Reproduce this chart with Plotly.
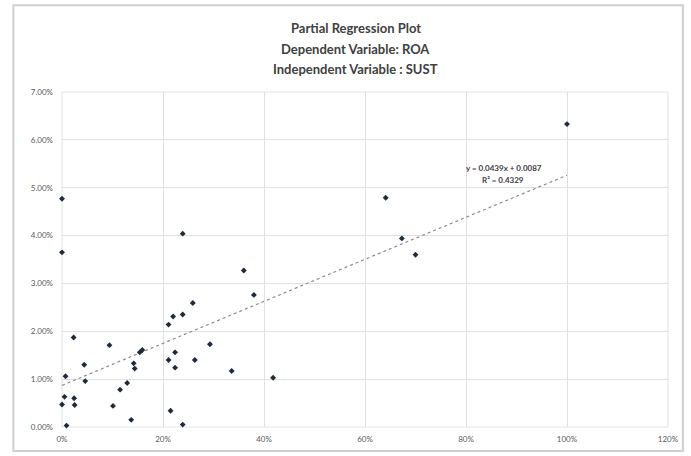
import plotly.graph_objects as go

# ---- data (fractions) ----
sust = [0.000, 0.000, 0.023, 0.094, 0.044, 0.007, 0.046, -0.002, 0.005, 0.024,
        0.000, 0.025, 0.009, 0.101, 0.115, 0.129, 0.142, 0.144, 0.137, 0.154,
        0.159, 0.211, 0.220, 0.239, 0.259, 0.239, 0.360, 0.380, 0.293, 0.224,
        0.211, 0.263, 0.224, 0.336, 0.418, 0.215, 0.239, 0.641, 0.673, 0.700,
        1.000]
roa = [0.0477, 0.0365, 0.0187, 0.0171, 0.0130, 0.0106, 0.0096, 0.0072, 0.0063, 0.0060,
       0.0047, 0.0046, 0.0003, 0.0044, 0.0078, 0.0092, 0.0133, 0.0122, 0.0015, 0.0156,
       0.0161, 0.0214, 0.0231, 0.0235, 0.0259, 0.0404, 0.0327, 0.0276, 0.0173, 0.0156,
       0.0140, 0.0140, 0.0124, 0.0117, 0.0103, 0.0034, 0.0005, 0.0479, 0.0394, 0.0360,
       0.0633]

trend_slope = 0.0439
trend_intercept = 0.0087
trend_x = [0.0, 1.0]
r_squared = 0.4329

x_tickvals = [0, 0.2, 0.4, 0.6, 0.8, 1.0, 1.2]
x_ticktext = ["0%", "20%", "40%", "60%", "80%", "100%", "120%"]
y_tickvals = [0, 0.01, 0.02, 0.03, 0.04, 0.05, 0.06, 0.07]
y_ticktext = ["0.00%", "1.00%", "2.00%", "3.00%", "4.00%", "5.00%", "6.00%", "7.00%"]

title_lines = ["Partial Regression Plot", "Dependent Variable: ROA", "Independent Variable : SUST"]

W, H = 691, 456
ML, MR, MT, MB = 62, 18, 92, 28
PW, PH = W - ML - MR, H - MT - MB

def px_x(p):
    return (p - ML) / PW

def px_y(p):
    return (H - MB - p) / PH

fig = go.Figure()

fig.add_trace(go.Scatter(
    x=trend_x, y=[trend_slope * v + trend_intercept for v in trend_x],
    mode="lines", line=dict(color="#8c8c8c", width=1.2, dash="dot"),
    hoverinfo="skip", showlegend=False))

fig.add_trace(go.Scatter(
    x=sust, y=roa, mode="markers",
    marker=dict(color="#1f2a3a", size=4.5, symbol="diamond"),
    cliponaxis=False, showlegend=False))

font_family = "Lato, 'Open Sans', sans-serif"

annotations = []
for txt, ypx in zip(title_lines, [28, 49, 69]):
    annotations.append(dict(
        text="<b>%s</b>" % txt, x=px_x(358), y=px_y(ypx), xref="paper", yref="paper",
        xanchor="center", yanchor="middle", showarrow=False,
        font=dict(family=font_family, size=13, color="#404040")))

annotations.append(dict(
    text="<b>y = %.4fx + %.4f</b>" % (trend_slope, trend_intercept),
    x=px_x(508), y=px_y(168), xref="paper", yref="paper",
    xanchor="center", yanchor="middle", showarrow=False,
    font=dict(family=font_family, size=8, color="#404040")))
annotations.append(dict(
    text="<b>R² = %.4f</b>" % r_squared,
    x=px_x(507), y=px_y(180), xref="paper", yref="paper",
    xanchor="center", yanchor="middle", showarrow=False,
    font=dict(family=font_family, size=8, color="#404040")))

shapes = [
    # outer chart frame
    dict(type="rect", xref="paper", yref="paper",
         x0=px_x(13), x1=px_x(688), y0=px_y(452), y1=px_y(5),
         line=dict(color="#cfcfcf", width=2), layer="below"),
    # plot area border
    dict(type="rect", xref="paper", yref="paper",
         x0=0, x1=1, y0=0, y1=1,
         line=dict(color="#e3e3e3", width=1), layer="below"),
]

fig.update_layout(
    width=W, height=H,
    margin=dict(l=ML, r=MR, t=MT, b=MB, pad=0),
    paper_bgcolor="white", plot_bgcolor="white",
    font=dict(family=font_family, color="#595959"),
    annotations=annotations, shapes=shapes,
    xaxis=dict(range=[0, 1.2], tickvals=x_tickvals, ticktext=x_ticktext,
               showgrid=True, gridcolor="#e0e0e0", gridwidth=1,
               zeroline=False, showline=False, ticks="",
               tickfont=dict(size=8, color="#595959"), ticklabelstandoff=6),
    yaxis=dict(range=[0, 0.07], tickvals=y_tickvals, ticktext=y_ticktext,
               showgrid=True, gridcolor="#e0e0e0", gridwidth=1,
               zeroline=False, showline=False, ticks="",
               tickfont=dict(size=8, color="#595959"), ticklabelstandoff=8),
)

fig.write_html("out.html")
